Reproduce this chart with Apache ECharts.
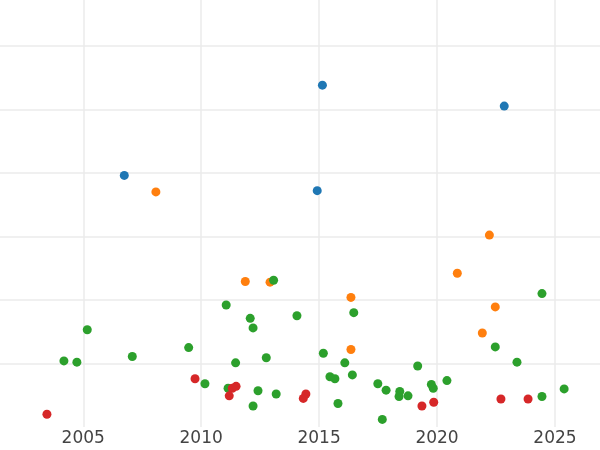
<!DOCTYPE html>
<html>
<head>
<meta charset="utf-8">
<script src="https://cdn.jsdelivr.net/npm/echarts@6/dist/echarts.min.js"></script>
<style>html,body{margin:0;padding:0;background:#fff}#c{width:600px;height:450px}</style>
</head>
<body>
<div id="c"></div>
<script>
// [year, value]
const blueData = [[2006.74,3.96],[2014.92,3.72],[2015.14,5.38],[2022.85,5.05]];
const orangeData = [[2008.08,3.70],[2011.87,2.29],[2012.92,2.28],[2016.35,2.04],[2016.35,1.22],[2020.86,2.42],[2021.92,1.48],[2022.22,3.02],[2022.47,1.89]];
const greenData = [[2005.17,1.53],[2004.18,1.04],[2004.73,1.02],[2007.08,1.11],[2013.07,2.31],[2011.06,1.92],[2012.08,1.71],[2012.20,1.56],[2014.06,1.75],[2009.47,1.25],[2011.46,1.01],[2012.76,1.09],[2010.16,0.68],[2011.14,0.61],[2012.41,0.57],[2013.18,0.52],[2012.20,0.33],[2016.47,1.80],[2015.18,1.16],[2016.09,1.01],[2015.46,0.79],[2015.67,0.76],[2016.41,0.82],[2015.80,0.37],[2017.49,0.68],[2017.84,0.58],[2018.42,0.56],[2018.39,0.48],[2018.77,0.49],[2017.68,0.12],[2019.18,0.96],[2019.76,0.67],[2019.84,0.61],[2020.42,0.73],[2024.45,2.10],[2022.47,1.26],[2023.39,1.02],[2025.39,0.60],[2024.45,0.48]];
const redData = [[2003.46,0.20],[2009.74,0.76],[2011.32,0.61],[2011.48,0.64],[2011.19,0.49],[2014.44,0.52],[2014.33,0.45],[2019.36,0.33],[2019.86,0.39],[2022.71,0.44],[2023.86,0.44]];
const seriesColors = ['#1f77b4','#ff7f0e','#2ca02c','#d62728'];

const chart = echarts.init(document.getElementById('c'), null, {renderer:'canvas'});
const mk = (d,i) => ({type:'scatter', data:d, symbolSize:9, itemStyle:{color:seriesColors[i], opacity:1}, animation:false});
chart.setOption({
  animation:false,
  grid:{left:0,right:0,top:0,bottom:23,containLabel:false},
  xAxis:{type:'value', min:2001.47, max:2026.91, minInterval:5, maxInterval:5,
    axisLine:{show:false}, axisTick:{show:false},
    axisLabel:{show:true, showMinLabel:false, showMaxLabel:false, margin:3, color:'#444', fontSize:17, fontFamily:'DejaVu Sans',
      formatter: v => String(Math.round(v))},
    splitLine:{show:true, showMinLine:false, showMaxLine:false, lineStyle:{color:'#ebebeb', width:1.5}}},
  yAxis:{type:'value', min:0, max:6.72, interval:1,
    axisLine:{show:false}, axisTick:{show:false}, axisLabel:{show:false},
    splitLine:{show:true, showMinLine:false, showMaxLine:false, lineStyle:{color:'#ebebeb', width:1.5}}},
  series:[mk(blueData,0),mk(orangeData,1),mk(greenData,2),mk(redData,3)]
});
</script>
</body>
</html>
